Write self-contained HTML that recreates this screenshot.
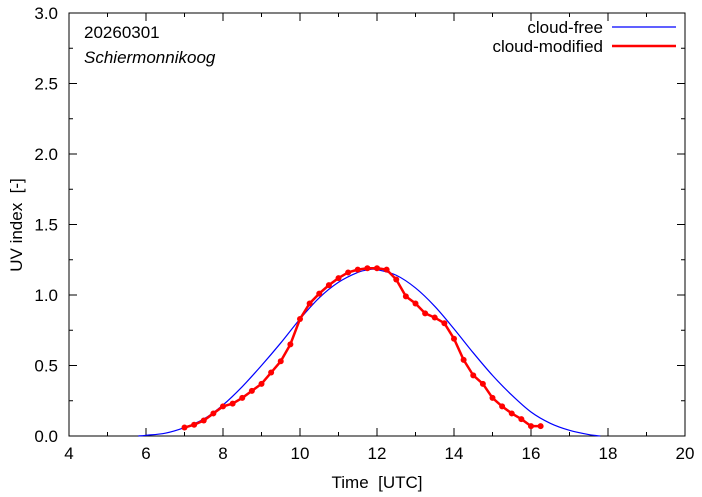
<!DOCTYPE html>
<html><head><meta charset="utf-8"><style>
body{margin:0;background:#fff;}
svg{display:block;font-family:"Liberation Sans",sans-serif;}
text{white-space:pre;}
</style></head><body>
<svg id="chart" width="702" height="497">
<g id="axes"></g>
<g id="series"></g>
<text x="84" y="38" font-size="17">20260301</text>
<text x="84" y="63" font-size="17" font-style="italic">Schiermonnikoog</text>
<g>
<text x="603" y="33" font-size="17" text-anchor="end">cloud-free</text>
<line x1="612" y1="27" x2="676" y2="27" stroke="#0000ff" stroke-width="1.2"/>
<text x="603" y="52" font-size="17" text-anchor="end">cloud-modified</text>
<line x1="612" y1="46" x2="676" y2="46" stroke="#ff0000" stroke-width="2.5"/>
</g>
<text x="377" y="488" font-size="17" text-anchor="middle">Time  [UTC]</text>
<text transform="translate(22,225) rotate(-90)" font-size="17" text-anchor="middle">UV index  [-]</text>
</svg>
<script>
const xTicks=[4,6,8,10,12,14,16,18,20];
const yTicks=[0,0.5,1.0,1.5,2.0,2.5,3.0];
const clearTimes=[5.8,6,6.5,7,7.5,8,8.5,9,9.5,10,10.5,11,11.5,11.8,12,12.5,13,13.5,14,14.5,15,15.5,16,16.5,17,17.5,17.8];
const clearUV=[0,0.005,0.02,0.06,0.12,0.22,0.35,0.50,0.66,0.83,0.98,1.09,1.16,1.18,1.18,1.14,1.05,0.92,0.76,0.59,0.43,0.29,0.17,0.09,0.04,0.01,0];
const cloudTimes=[7,7.25,7.5,7.75,8,8.25,8.5,8.75,9,9.25,9.5,9.75,10,10.25,10.5,10.75,11,11.25,11.5,11.75,12,12.25,12.5,12.75,13,13.25,13.5,13.75,14,14.25,14.5,14.75,15,15.25,15.5,15.75,16,16.25];
const cloudUV=[0.06,0.08,0.11,0.16,0.21,0.23,0.27,0.32,0.37,0.45,0.53,0.65,0.83,0.94,1.01,1.07,1.12,1.16,1.18,1.19,1.19,1.18,1.11,0.99,0.94,0.87,0.84,0.80,0.69,0.54,0.43,0.37,0.27,0.21,0.16,0.12,0.07,0.07];
const NS="http://www.w3.org/2000/svg";
const L=69,R=685,T=13,B=436;
const xs=v=>L+(v-4)/16*(R-L);
const ys=v=>B-v/3*(B-T);
const ax=document.getElementById('axes'),se=document.getElementById('series');
function mk(tag,at,p){const e=document.createElementNS(NS,tag);for(const k in at)e.setAttribute(k,at[k]);p.appendChild(e);return e;}
const fr=mk('rect',{x:L,y:T,width:R-L,height:B-T,fill:'none',stroke:'#000','stroke-width':1},ax);


xTicks.forEach((t,i)=>{
  const x=xs(t);
  mk('line',{x1:x,y1:B,x2:x,y2:B-8,stroke:'#000'},ax);
  mk('line',{x1:x,y1:T,x2:x,y2:T+8,stroke:'#000'},ax);
  if(i<xTicks.length-1){const m=xs(t+1);mk('line',{x1:m,y1:B,x2:m,y2:B-4,stroke:'#000'},ax);mk('line',{x1:m,y1:T,x2:m,y2:T+4,stroke:'#000'},ax);}
  const tx=mk('text',{x:x,y:B+23,'font-size':17,'text-anchor':'middle'},ax);tx.textContent=t;
  
  
});
yTicks.forEach((t,i)=>{
  const y=ys(t);
  mk('line',{x1:L,y1:y,x2:L+8,y2:y,stroke:'#000'},ax);
  mk('line',{x1:R,y1:y,x2:R-8,y2:y,stroke:'#000'},ax);
  if(i<yTicks.length-1){const m=ys(t+0.25);mk('line',{x1:L,y1:m,x2:L+4,y2:m,stroke:'#000'},ax);mk('line',{x1:R,y1:m,x2:R-4,y2:m,stroke:'#000'},ax);}
  const tx=mk('text',{x:L-11,y:y+6,'font-size':17,'text-anchor':'end'},ax);tx.textContent=t.toFixed(1);
  
  
});
const P=clearTimes.map((t,i)=>[xs(t),ys(clearUV[i])]);
let d='M'+P[0][0]+','+P[0][1];
for(let i=0;i<P.length-1;i++){
  const p0=P[Math.max(i-1,0)],p1=P[i],p2=P[i+1],p3=P[Math.min(i+2,P.length-1)];
  d+=' C'+(p1[0]+(p2[0]-p0[0])/6)+','+(p1[1]+(p2[1]-p0[1])/6)+' '+(p2[0]-(p3[0]-p1[0])/6)+','+(p2[1]-(p3[1]-p1[1])/6)+' '+p2[0]+','+p2[1];
}
const cl=mk('path',{d:d,fill:'none',stroke:'#0000ff','stroke-width':1.2},se);


const cm=mk('polyline',{points:cloudTimes.map((t,i)=>xs(t)+','+ys(cloudUV[i])).join(' '),fill:'none',stroke:'#ff0000','stroke-width':2.5},se);


cloudTimes.forEach((t,i)=>{
  const c=mk('circle',{cx:xs(t),cy:ys(cloudUV[i]),r:3,fill:'#ff0000'},se);
  
  
});
</script>
</body></html>
